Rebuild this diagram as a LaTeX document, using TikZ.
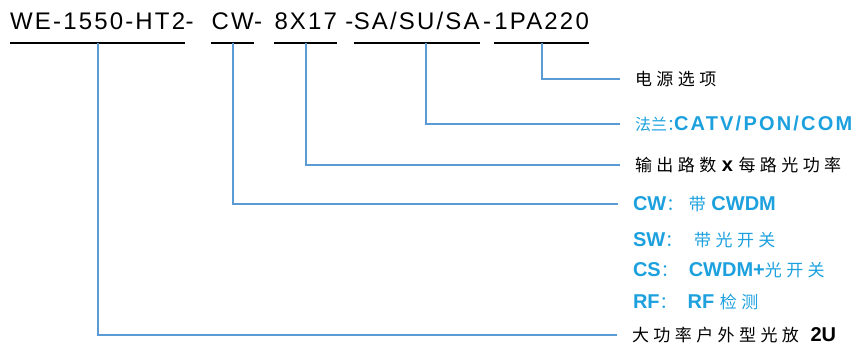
\documentclass[tikz,border=0pt]{standalone}
\usepackage{fontspec}
\usepackage{tikz}
\setmainfont{Liberation Sans}
\newfontfamily\cjk{Noto Sans CJK SC}[LetterSpace=26]
\newfontfamily\cjkplain{Noto Sans CJK SC}
\newfontfamily\codefont{Liberation Sans}[LetterSpace=9]
\newfontfamily\widebold{Liberation Sans}[LetterSpace=11]
\usetikzlibrary{positioning, calc}
\definecolor{linkblue}{RGB}{91,155,213}
\definecolor{optblue}{RGB}{28,160,222}
\newcommand{\zh}[1]{{\cjk\mdseries\fontsize{17}{20}\selectfont #1}}

\begin{document}
\begin{tikzpicture}[
  x=1pt, y=-1pt,
  seg/.style={inner sep=0pt, anchor=base west, font=\codefont\fontsize{24}{28}\selectfont},
  bar/.style={line width=2.8pt, draw=black},
  link/.style={line width=2.2pt, draw=linkblue},
  opt/.style={anchor=west, inner xsep=0pt, outer xsep=15pt, font=\fontsize{20}{24}\selectfont\bfseries},
  optb/.style={opt, text=optblue}
]
\useasboundingbox (0,0) rectangle (864,347);

% model code, one node per field
\node[seg] (p1) at (10,30) {WE-1550-HT2};
\node[seg] (d1) at (p1.base east) {-};
\node[seg] (p2) at ([xshift=17.6pt]d1.base east) {CW};
\node[seg] (d2) at (p2.base east) {-};
\node[seg] (p3) at ([xshift=12pt]d2.base east) {8X17};
\node[seg] (d3) at ([xshift=8pt]p3.base east) {-};
\node[seg] (p4) at (d3.base east) {SA/SU/SA};
\node[seg] (d4) at ([xshift=3pt]p4.base east) {-};
\node[seg] (p5) at ([xshift=3pt]d4.base east) {1PA220};

\foreach \p in {p1,p2,p3,p4,p5}
  \draw[bar] ([yshift=-13pt]\p.base west) -- ([yshift=-13pt]\p.base east);

% explanations
\node[opt] (opt1) at (620,79) {\zh{电源选项}};
\node[optb] (opt2) at (620,124) {{\cjkplain\mdseries\fontsize{16}{19}\selectfont 法兰：}\hspace{-9pt}{\widebold CATV/PON/COM}};
\node[opt] (opt3) at (620,165) {\zh{输出路数} x \zh{每路光功率}};
\node[optb] (opt4) at (618,204) {CW\zh{：} \zh{带} CWDM};
\node[optb] (opt5) at (618,240) {SW\zh{：}\hspace{12pt}\zh{带光开关}};
\node[optb] (opt6) at (618,270) {CS\zh{：}\hspace{11pt}CWDM+\zh{光开关}};
\node[optb] (opt7) at (618,302) {RF\zh{：}\hspace{11pt}RF \zh{检测}};
\node[opt] (opt8) at (617,335) {\zh{大功率户外型光放}\hspace{6pt} 2U};

\draw[link] ([yshift=-13pt]p5.base) |- (opt1.west);
\draw[link] ([xshift=9pt,yshift=-13pt]p4.base) |- (opt2.west);
\draw[link] ([yshift=-13pt]p3.base) |- (opt3.west);
\draw[link] ([yshift=-13pt]p2.base) |- (opt4.west);
\draw[link] ([yshift=-13pt]p1.base) |- (opt8.west);
\end{tikzpicture}
\end{document}
